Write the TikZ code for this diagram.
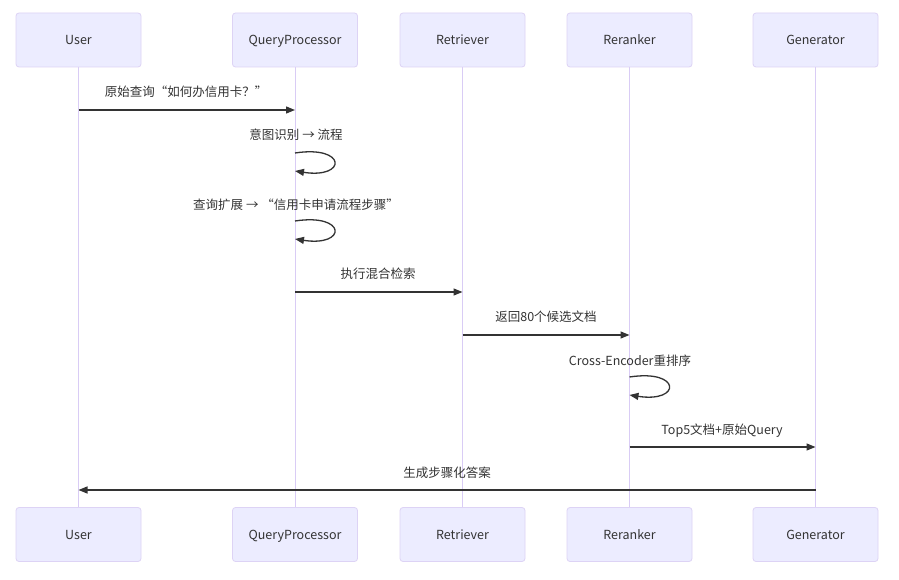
\documentclass[tikz,border=0pt]{standalone}
\usepackage{fontspec}
\setmainfont{Noto Sans CJK SC}
\usetikzlibrary{arrows.meta}
\definecolor{actfill}{HTML}{ECECFF}
\definecolor{actline}{HTML}{DDD3F5}
\definecolor{lifeline}{HTML}{D9CCF5}
\definecolor{txt}{HTML}{333333}
\tikzset{
  actor/.style={draw=actline, fill=actfill, line width=0.8pt, rounded corners=3pt,
    minimum width=125pt, minimum height=54pt, inner sep=0pt, text=txt,
    text height=11pt, text depth=1pt, font=\fontsize{12.5}{15}\selectfont},
  life/.style={draw=lifeline, line width=1pt},
  msg/.style={draw=txt, line width=1.3pt, -{Triangle[length=9pt,width=7pt]}},
  lbl/.style={text=txt, font=\fontsize{12.5}{15}\selectfont, inner sep=0pt,
    text height=11pt, text depth=1pt}
}
\begin{document}
\begin{tikzpicture}[x=1pt,y=-1pt]
\useasboundingbox[fill=white] (0,0) rectangle (899,580);
% lifelines first (behind)
\foreach \nm/\xx in {U/78.5,Q/295,R/462.5,K/629.5,G/815.5}{
  \coordinate (top\nm) at (\xx,67);
  \coordinate (bot\nm) at (\xx,507);
}
\draw[life] (topU) -- (botU);
\draw[life] (topQ) -- (botQ);
\draw[life] (topR) -- (botR);
\draw[life] (topK) -- (botK);
\draw[life] (topG) -- (botG);
% actors
\node[actor] (aU) at (78.5,40) {User};
\node[actor] (aQ) at (295,40) {QueryProcessor};
\node[actor] (aR) at (462.5,40) {Retriever};
\node[actor] (aK) at (629.5,40) {Reranker};
\node[actor] (aG) at (815.5,40) {Generator};
\node[actor] (bU) at (78.5,534.5) {User};
\node[actor] (bQ) at (295,534.5) {QueryProcessor};
\node[actor] (bR) at (462.5,534.5) {Retriever};
\node[actor] (bK) at (629.5,534.5) {Reranker};
\node[actor] (bG) at (815.5,534.5) {Generator};
% message endpoints
\coordinate (m1a) at (78.5,110); \coordinate (m1b) at (295,110);
\coordinate (m2a) at (295,153); \coordinate (m2b) at (295,171);
\coordinate (m3a) at (295,221); \coordinate (m3b) at (295,239);
\coordinate (m4a) at (295,292); \coordinate (m4b) at (462.5,292);
\coordinate (m5a) at (462.5,335); \coordinate (m5b) at (629.5,335);
\coordinate (m6a) at (629.5,377); \coordinate (m6b) at (629.5,395);
\coordinate (m7a) at (629.5,447); \coordinate (m7b) at (815.5,447);
\coordinate (m8a) at (815.5,490); \coordinate (m8b) at (78.5,490);
% messages
\draw[msg] (m1a) -- (m1b);
\node[lbl] (l1) at (186,92) {原始查询“如何办信用卡？”};
\draw[msg] (m2a) .. controls +(52,-8) and +(52,8) .. (m2b);
\node[lbl] (l2) at (296,135) {意图识别 → 流程};
\draw[msg] (m3a) .. controls +(52,-8) and +(52,8) .. (m3b);
\node[lbl] (l3) at (296,204) {查询扩展 → “信用卡申请流程步骤”};
\draw[msg] (m4a) -- (m4b);
\node[lbl] (l4) at (378,273) {执行混合检索};
\draw[msg] (m5a) -- (m5b);
\node[lbl] (l5) at (546,316) {返回80个候选文档};
\draw[msg] (m6a) .. controls +(52,-8) and +(52,8) .. (m6b);
\node[lbl] (l6) at (630,360) {Cross-Encoder重排序};
\draw[msg] (m7a) -- (m7b);
\node[lbl] (l7) at (722,429) {Top5文档+原始Query};
\draw[msg] (m8a) -- (m8b);
\node[lbl] (l8) at (447,472) {生成步骤化答案};
\end{tikzpicture}
\end{document}
